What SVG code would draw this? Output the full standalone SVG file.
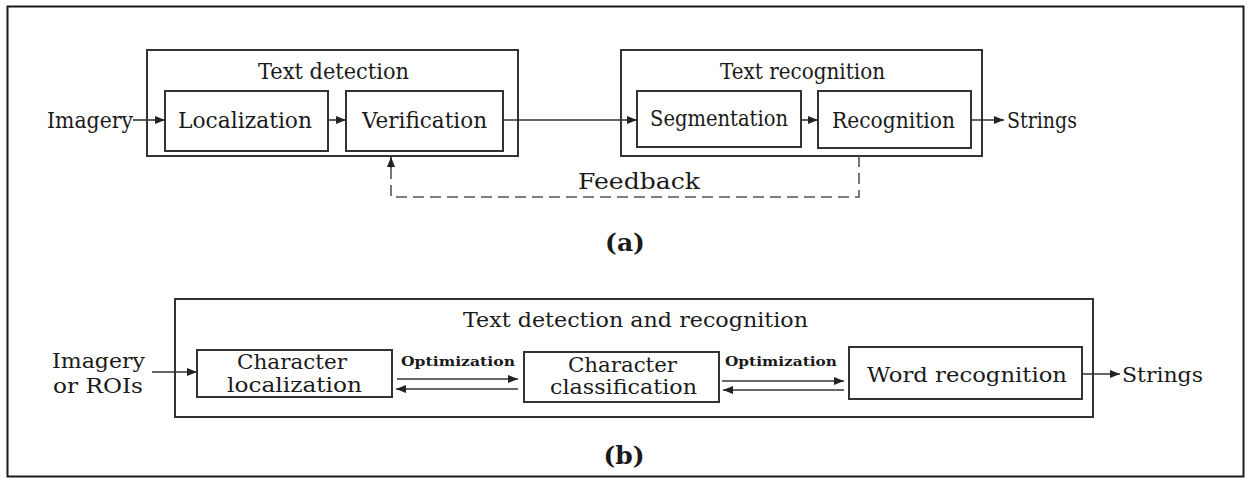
<svg xmlns="http://www.w3.org/2000/svg" width="1251" height="478" viewBox="0 0 1251 478">
<defs>
<marker id="ah" viewBox="0 0 10 8" refX="10" refY="4" markerWidth="10" markerHeight="8" markerUnits="userSpaceOnUse" orient="auto">
<path d="M0,0 L10,4 L0,8 Z" fill="#222"/>
</marker>
</defs>
<style>
.frame{fill:#fff;stroke:#1a1a1a;stroke-width:2}
.grp{fill:none;stroke:#333;stroke-width:2}
.box{fill:#fff;stroke:#333;stroke-width:2}
.ln{fill:none;stroke:#333;stroke-width:1.6}
.dash{fill:none;stroke:#555;stroke-width:1.6;stroke-dasharray:11,6}
text{font-family:"DejaVu Serif","Liberation Serif",serif;fill:#1a1a1a}
.t1{font-size:23px}
.t2{font-size:19.5px}
.t3{font-size:13.5px;font-weight:bold}
.cap{font-size:25px;font-weight:bold}
</style>
<rect class="frame" x="7.5" y="6.5" width="1236" height="470"/>

<g id="text-detection">
<rect class="grp" x="147" y="50" width="371" height="106"/>
<text class="t1" x="258" y="79" textLength="151" lengthAdjust="spacingAndGlyphs">Text detection</text>
</g>
<g id="localization">
<rect class="box" x="165" y="91" width="163" height="60"/>
<text class="t1" x="178" y="128" textLength="134" lengthAdjust="spacingAndGlyphs">Localization</text>
</g>
<g id="verification">
<rect class="box" x="346" y="91" width="157" height="60"/>
<text class="t1" x="362" y="128" textLength="125" lengthAdjust="spacingAndGlyphs">Verification</text>
</g>
<g id="text-recognition">
<rect class="grp" x="621" y="50" width="361" height="106"/>
<text class="t1" x="720" y="79" textLength="165" lengthAdjust="spacingAndGlyphs">Text recognition</text>
</g>
<g id="segmentation">
<rect class="box" x="637" y="91" width="164" height="56"/>
<text class="t1" x="650" y="126" textLength="138" lengthAdjust="spacingAndGlyphs">Segmentation</text>
</g>
<g id="recognition">
<rect class="box" x="818" y="91" width="153" height="57"/>
<text class="t1" x="832" y="128" textLength="123" lengthAdjust="spacingAndGlyphs">Recognition</text>
</g>
<g id="imagery-a"><text class="t1" x="47" y="128" textLength="86" lengthAdjust="spacingAndGlyphs">Imagery</text></g>
<g id="strings-a"><text class="t1" x="1007" y="128" textLength="70" lengthAdjust="spacingAndGlyphs">Strings</text></g>
<g id="feedback-label"><text class="t1" x="578" y="189" textLength="122" lengthAdjust="spacingAndGlyphs">Feedback</text></g>
<g id="label-a"><text class="cap" x="625" y="251" text-anchor="middle">(a)</text></g>

<g id="text-det-rec">
<rect class="grp" x="175" y="299" width="918" height="118"/>
<text class="t2" x="463" y="327" textLength="345" lengthAdjust="spacingAndGlyphs">Text detection and recognition</text>
</g>
<g id="char-localization">
<rect class="box" x="197" y="350" width="195" height="47"/>
<text class="t2" x="237" y="369" textLength="110" lengthAdjust="spacingAndGlyphs">Character</text>
<text class="t2" x="227" y="392" textLength="135" lengthAdjust="spacingAndGlyphs">localization</text>
</g>
<g id="char-classification">
<rect class="box" x="524" y="352" width="195" height="50"/>
<text class="t2" x="568" y="372" textLength="109" lengthAdjust="spacingAndGlyphs">Character</text>
<text class="t2" x="550" y="394" textLength="147" lengthAdjust="spacingAndGlyphs">classification</text>
</g>
<g id="word-recognition">
<rect class="box" x="849" y="347" width="233" height="52"/>
<text class="t2" x="867" y="382" textLength="200" lengthAdjust="spacingAndGlyphs">Word recognition</text>
</g>
<g id="imagery-b">
<text class="t2" x="52" y="368" textLength="93" lengthAdjust="spacingAndGlyphs">Imagery</text>
<text class="t2" x="53" y="393" textLength="90" lengthAdjust="spacingAndGlyphs">or ROIs</text>
</g>
<g id="strings-b"><text class="t2" x="1122" y="382" textLength="81" lengthAdjust="spacingAndGlyphs">Strings</text></g>
<g id="opt-labels">
<text class="t3" x="401" y="366" textLength="114" lengthAdjust="spacingAndGlyphs">Optimization</text>
<text class="t3" x="725" y="366" textLength="112" lengthAdjust="spacingAndGlyphs">Optimization</text>
</g>
<g id="label-b"><text class="cap" x="624" y="464" text-anchor="middle">(b)</text></g>

<g id="connectors">
<line class="ln" x1="133" y1="120" x2="165" y2="120" marker-end="url(#ah)"/>
<line class="ln" x1="328" y1="120" x2="346" y2="120" marker-end="url(#ah)"/>
<line class="ln" x1="503" y1="120" x2="637" y2="120" marker-end="url(#ah)"/>
<line class="ln" x1="801" y1="120" x2="818" y2="120" marker-end="url(#ah)"/>
<line class="ln" x1="971" y1="120" x2="1004" y2="120" marker-end="url(#ah)"/>
<path class="dash" d="M859,156 V197 H391 V166"/>
<line class="ln" x1="391" y1="168" x2="391" y2="157" marker-end="url(#ah)"/>
<line class="ln" x1="152" y1="372" x2="197" y2="372" marker-end="url(#ah)"/>
<line class="ln" x1="397" y1="379" x2="518" y2="379" marker-end="url(#ah)"/>
<line class="ln" x1="518" y1="389" x2="396" y2="389" marker-end="url(#ah)"/>
<line class="ln" x1="722" y1="381" x2="844" y2="381" marker-end="url(#ah)"/>
<line class="ln" x1="844" y1="390" x2="723" y2="390" marker-end="url(#ah)"/>
<line class="ln" x1="1082" y1="374" x2="1120" y2="374" marker-end="url(#ah)"/>
</g>
</svg>
